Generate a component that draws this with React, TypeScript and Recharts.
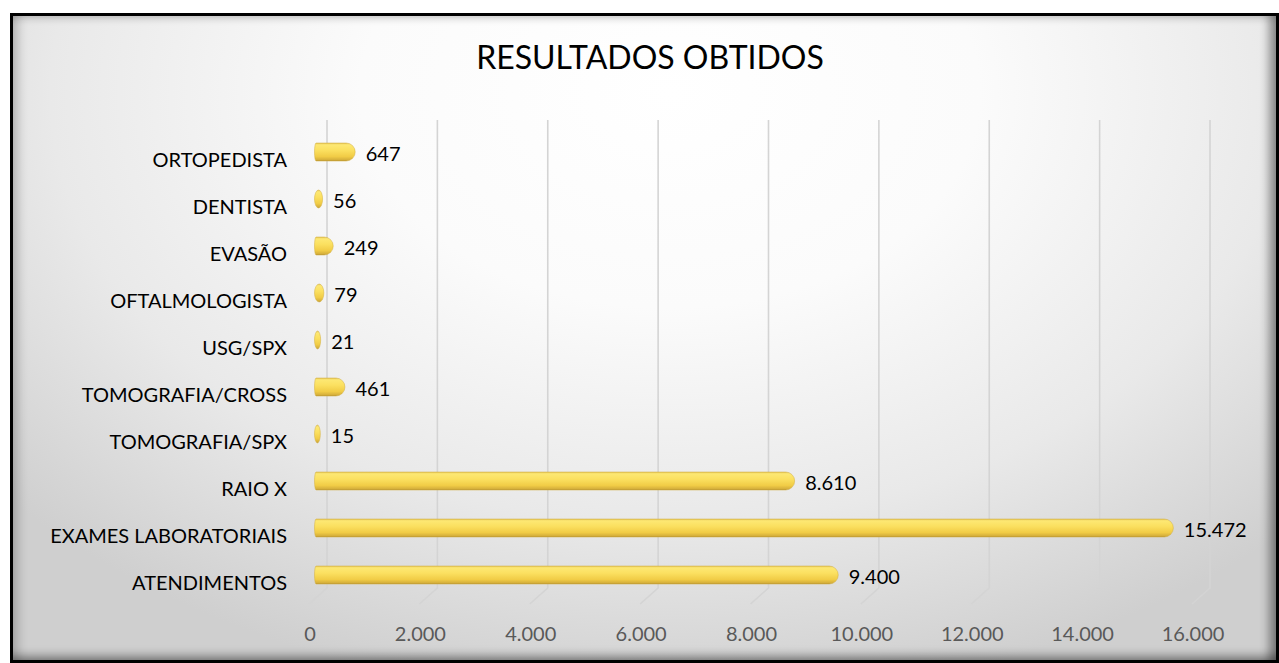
import React from 'react';
import { BarChart, Bar, XAxis, YAxis, CartesianGrid, LabelList } from 'recharts';

const categories = [
  'ORTOPEDISTA',
  'DENTISTA',
  'EVASÃO',
  'OFTALMOLOGISTA',
  'USG/SPX',
  'TOMOGRAFIA/CROSS',
  'TOMOGRAFIA/SPX',
  'RAIO X',
  'EXAMES LABORATORIAIS',
  'ATENDIMENTOS',
];
const values = [647, 56, 249, 79, 21, 461, 15, 8610, 15472, 9400];
const xTicks = [0, 2000, 4000, 6000, 8000, 10000, 12000, 14000, 16000];

const data = categories.map((name, i) => ({ name, value: values[i] }));

const FONT = 'Lato, "Open Sans", sans-serif';
const fmt = (v: number) => String(v).replace(/\B(?=(\d{3})+(?!\d))/g, '.');

// capsule-like 3d bar, rounded on the right end (tiny ones become an ellipse)
function CapsuleBar(props: any) {
  const { x, y, width, height } = props;
  const L = x - 1.5;
  const R = x + Math.max(width, 0) + 3.5;
  const T = R - L;
  const small = T < 12;
  const rxL = small ? T / 2 : 1.5;
  const rxR = small ? T / 2 : Math.min(9, T - rxL);
  const ry = height / 2;
  const d = `M${L + rxL},${y} H${R - rxR} A${rxR},${ry} 0 0 1 ${R - rxR},${y + height} H${L + rxL} A${rxL},${ry} 0 0 1 ${L + rxL},${y} Z`;
  return (
    <g>
      <path d={d} fill="url(#gold)" />
      <path d={d} fill="none" stroke="#d3ae3e" strokeWidth={0.5} />
    </g>
  );
}

function gridLine(p: any) {
  const { x1, y1, y2 } = p;
  return (
    <polyline
      key={`g-${x1}`}
      points={`${x1 + 11},${y1 - 8} ${x1 + 11},${y2 - 10} ${x1 - 7},${y2 + 6}`}
      fill="none"
      stroke="#d4d4d4"
      strokeWidth={1.6}
    />
  );
}

const CatTick = ({ x, y, payload }: any) => (
  <text x={x} y={y + 7} textAnchor="end" dominantBaseline="central" fontFamily={FONT} fontSize={20} fill="#000">
    {payload.value}
  </text>
);

const NumTick = ({ x, y, payload }: any) => (
  <text x={x - 6} y={y + 35} textAnchor="middle" dominantBaseline="central" fontFamily={FONT} fontSize={20} fill="#595959">
    {fmt(payload.value)}
  </text>
);

const ValueLabel = (p: any) => {
  const { x, y, width, height, value } = p;
  return (
    <text x={x + width + 14} y={y + height / 2 + 1} dominantBaseline="central" fontFamily={FONT} fontSize={20} fill="#000">
      {fmt(value)}
    </text>
  );
};

export default function App() {
  return (
    <div style={{ position: 'absolute', left: 0, top: 0, width: 1279, height: 663, background: '#fff' }}>
      <div
        style={{
          position: 'absolute',
          left: 10,
          top: 13,
          width: 1269,
          height: 650,
          boxSizing: 'border-box',
          border: '3px solid #000',
          background:
            'radial-gradient(ellipse 70% 95% at 52% 12%, #ffffff 0%, #fbfbfb 35%, #e9e9e9 70%, #cfcfcf 100%)',
          boxShadow:
            'inset 12px 0 10px -6px rgba(0,0,0,0.18), inset -12px 0 10px -5px rgba(0,0,0,0.4), inset 0 -10px 8px -5px rgba(0,0,0,0.35), inset 0 10px 6px -6px rgba(0,0,0,0.12)',
        }}
      />
      <div
        style={{
          position: 'absolute',
          left: 0,
          top: 41,
          width: 1300,
          textAlign: 'center',
          fontFamily: FONT,
          fontSize: 32,
          lineHeight: '32px',
          color: '#000',
        }}
      >
        RESULTADOS OBTIDOS
      </div>
      <div style={{ position: 'absolute', left: 0, top: 0 }}>
        <BarChart
          width={1279}
          height={663}
          data={data}
          layout="vertical"
          margin={{ top: 128, right: 80, bottom: 25, left: 0 }}
          barSize={18}
        >
          <defs>
            <linearGradient id="gold" x1="0" y1="0" x2="0" y2="1">
              <stop offset="0%" stopColor="#e2c252" />
              <stop offset="10%" stopColor="#fde873" />
              <stop offset="40%" stopColor="#fbe060" />
              <stop offset="75%" stopColor="#f1cc46" />
              <stop offset="92%" stopColor="#d8b23c" />
              <stop offset="100%" stopColor="#b89330" />
            </linearGradient>
          </defs>
          <CartesianGrid horizontal={false} vertical={gridLine} />
          <XAxis
            type="number"
            domain={[0, 16000]}
            ticks={xTicks}
            axisLine={false}
            tickLine={false}
            tickSize={0}
            tickMargin={0}
            height={40}
            tick={<NumTick />}
            interval={0}
          />
          <YAxis
            type="category"
            dataKey="name"
            width={316}
            axisLine={false}
            tickLine={false}
            tickSize={0}
            tickMargin={29}
            tick={<CatTick />}
            interval={0}
          />
          <Bar dataKey="value" shape={<CapsuleBar />} isAnimationActive={false}>
            <LabelList dataKey="value" content={<ValueLabel />} />
          </Bar>
        </BarChart>
      </div>
    </div>
  );
}
